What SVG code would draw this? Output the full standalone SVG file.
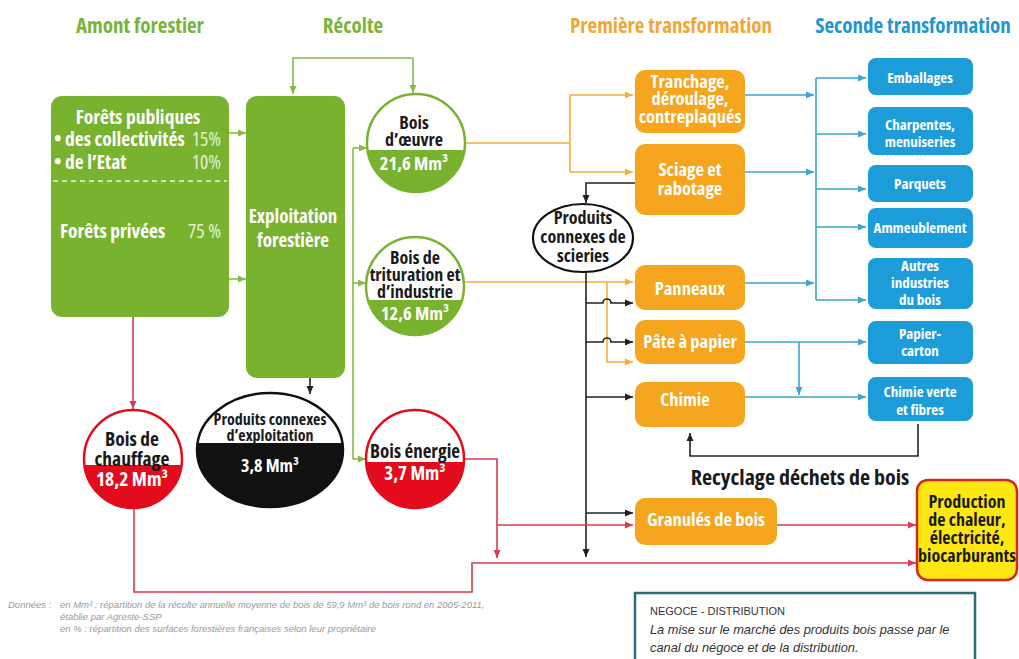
<svg xmlns="http://www.w3.org/2000/svg" width="1019" height="659" viewBox="0 0 1019 659">
<defs>
<style>
text{font-family:"Open Sans","Roboto",sans-serif;font-stretch:75%;font-weight:bold;text-anchor:middle}
.s{text-anchor:start}
.e{text-anchor:end}
.title{font-size:21px}
.w{fill:#fff}
.k{fill:#1a1a1a}
.pc{fill:#e4f0d2;font-weight:normal}
.gb{fill:#78b22e}
.ob{fill:#f5a51e}
.bb{fill:#1c9dda}
.bt{fill:#fff;font-size:15px}
.ot{fill:#fff;font-size:18.5px}
.lg{fill:none;stroke:#86ba46;stroke-width:1.6}
.lo{fill:none;stroke:#f0b23c;stroke-width:1.6}
.lb{fill:none;stroke:#3aa5d2;stroke-width:1.6}
.lr{fill:none;stroke:#d83a55;stroke-width:1.6}
.lk{fill:none;stroke:#222;stroke-width:1.6}
.foot{font-family:"Liberation Sans",sans-serif;font-stretch:normal;font-weight:normal;font-style:italic;font-size:9.5px;fill:#999;text-anchor:start}
.neg{font-family:"Liberation Sans",sans-serif;font-stretch:normal;font-weight:normal;font-size:11px;fill:#333;text-anchor:start}
.it{font-style:italic;font-size:12.8px}
</style>
<marker id="ag" viewBox="0 0 8 8" refX="8" refY="4" markerWidth="8" markerHeight="8" orient="auto" markerUnits="userSpaceOnUse"><path d="M0,0.5L8,4L0,7.5z" fill="#86ba46"/></marker>
<marker id="ao" viewBox="0 0 8 8" refX="8" refY="4" markerWidth="8" markerHeight="8" orient="auto" markerUnits="userSpaceOnUse"><path d="M0,0.5L8,4L0,7.5z" fill="#f0b23c"/></marker>
<marker id="ab" viewBox="0 0 8 8" refX="8" refY="4" markerWidth="8" markerHeight="8" orient="auto" markerUnits="userSpaceOnUse"><path d="M0,0.5L8,4L0,7.5z" fill="#3aa5d2"/></marker>
<marker id="ar" viewBox="0 0 8 8" refX="8" refY="4" markerWidth="8" markerHeight="8" orient="auto" markerUnits="userSpaceOnUse"><path d="M0,0.5L8,4L0,7.5z" fill="#d83a55"/></marker>
<marker id="ak" viewBox="0 0 8 8" refX="8" refY="4" markerWidth="8" markerHeight="8" orient="auto" markerUnits="userSpaceOnUse"><path d="M0,0.5L8,4L0,7.5z" fill="#222"/></marker>
</defs>
<rect width="1019" height="659" fill="#fff"/>

<g id="titles">
<text class="title" x="140" y="33" fill="#7ab33a">Amont forestier</text>
<text class="title" x="353" y="33" fill="#7ab33a">Récolte</text>
<text class="title" x="671" y="33" fill="#f0a830">Première transformation</text>
<text class="title" x="913" y="33" fill="#2196d0">Seconde transformation</text>
</g>

<g id="connectors">
<path class="lg" d="M229,133H246" marker-end="url(#ag)"/>
<path class="lg" d="M229,279H246" marker-end="url(#ag)"/>
<path class="lg" d="M413,58H293V94" marker-end="url(#ag)"/>
<path class="lg" d="M413,58V93" marker-end="url(#ag)"/>
<path class="lg" d="M353,148V459"/>
<path class="lg" d="M353,148H367" marker-end="url(#ag)"/>
<path class="lg" d="M353,283H366" marker-end="url(#ag)"/>
<path class="lg" d="M353,459H366" marker-end="url(#ag)"/>
<path class="lo" d="M465,143H570"/>
<path class="lo" d="M570,95V172"/>
<path class="lo" d="M570,95H633" marker-end="url(#ao)"/>
<path class="lo" d="M570,172H633" marker-end="url(#ao)"/>
<path class="lo" d="M463,282H633" marker-end="url(#ao)"/>
<path class="lo" d="M607,282V362H633" marker-end="url(#ao)"/>
<path class="lk" d="M635,183H586V203" marker-end="url(#ak)"/>
<path class="lk" d="M586,272V557" marker-end="url(#ak)"/>
<path class="lk" d="M586,303H603a4,4 0 0 1 8,0H633" marker-end="url(#ak)"/>
<path class="lk" d="M586,342H603a4,4 0 0 1 8,0H633" marker-end="url(#ak)"/>
<path class="lk" d="M586,397H633" marker-end="url(#ak)"/>
<path class="lk" d="M586,513H633" marker-end="url(#ak)"/>
<path class="lk" d="M310,378V394" marker-end="url(#ak)"/>
<path class="lb" d="M745,95H814" marker-end="url(#ab)"/>
<path class="lb" d="M745,172H814" marker-end="url(#ab)"/>
<path class="lb" d="M745,283H814" marker-end="url(#ab)"/>
<path class="lb" d="M816,78V300"/>
<path class="lb" d="M816,78H866" marker-end="url(#ab)"/>
<path class="lb" d="M816,134H866" marker-end="url(#ab)"/>
<path class="lb" d="M816,189H866" marker-end="url(#ab)"/>
<path class="lb" d="M816,227H866" marker-end="url(#ab)"/>
<path class="lb" d="M816,300H866" marker-end="url(#ab)"/>
<path class="lb" d="M745,342H866" marker-end="url(#ab)"/>
<path class="lb" d="M745,397H866" marker-end="url(#ab)"/>
<path class="lb" d="M799,342V395" marker-end="url(#ab)"/>
<path class="lk" d="M918,424V456H690V433" marker-end="url(#ak)"/>
<path class="lr" d="M133,317V409" marker-end="url(#ar)"/>
<path class="lr" d="M465,459H497V558" marker-end="url(#ar)"/>
<path class="lr" d="M497,525H633" marker-end="url(#ar)"/>
<path class="lr" d="M777,525H916" marker-end="url(#ar)"/>
<path class="lr" d="M134,508V592H472V563H916" marker-end="url(#ar)"/>
</g>

<g id="forets">
<rect class="gb" x="51" y="96" width="178" height="221" rx="11"/>
<line x1="53" y1="181" x2="227" y2="181" stroke="#fff" stroke-width="1.3" stroke-dasharray="5,4" opacity="0.85"/>
<text class="w" x="138" y="124" font-size="19.5">Forêts publiques</text>
<text class="w s" x="54" y="146" font-size="19.5">• des collectivités</text>
<text class="pc e" x="221" y="146" font-size="19.5">15%</text>
<text class="w s" x="54" y="169" font-size="19.5">• de l’Etat</text>
<text class="pc e" x="221" y="169" font-size="19.5">10%</text>
<text class="w s" x="60" y="238" font-size="19.5">Forêts privées</text>
<text class="pc e" x="221" y="238" font-size="19.5">75 %</text>
</g>

<g id="exploitation">
<rect class="gb" x="246" y="96" width="99" height="282" rx="11"/>
<text class="w" x="293" y="223" font-size="19">Exploitation</text>
<text class="w" x="293" y="247" font-size="19">forestière</text>
</g>

<g id="bois-oeuvre">
<circle cx="416" cy="143" r="49" fill="#fff"/>
<path d="M367.5,150A49,49 0 0 0 464.5,150Z" fill="#78b22e"/>
<circle cx="416" cy="143" r="49" fill="none" stroke="#78b22e" stroke-width="2.5"/>
<text class="k" x="414" y="129" font-size="18">Bois</text>
<text class="k" x="414" y="146" font-size="18">d’œuvre</text>
<text class="w" x="414" y="170" font-size="18.5">21,6 Mm³</text>
</g>

<g id="bois-trituration">
<circle cx="415" cy="286" r="49" fill="#fff"/>
<path d="M368,300A49,49 0 0 0 462,300Z" fill="#78b22e"/>
<circle cx="415" cy="286" r="49" fill="none" stroke="#78b22e" stroke-width="2.5"/>
<text class="k" x="415" y="264" font-size="18">Bois de</text>
<text class="k" x="415" y="281" font-size="18">trituration et</text>
<text class="k" x="415" y="298" font-size="18">d’industrie</text>
<text class="w" x="415" y="320" font-size="18.5">12,6 Mm³</text>
</g>

<g id="bois-energie">
<circle cx="415" cy="459" r="49" fill="#fff"/>
<path d="M366.1,462A49,49 0 0 0 463.9,462Z" fill="#e30b1c"/>
<circle cx="415" cy="459" r="49" fill="none" stroke="#e30b1c" stroke-width="2.5"/>
<text class="k" x="415" y="458" font-size="19">Bois énergie</text>
<text class="w" x="415" y="480" font-size="19">3,7 Mm³</text>
</g>

<g id="bois-chauffage">
<circle cx="133" cy="459" r="49" fill="#fff"/>
<path d="M84.4,465A49,49 0 0 0 181.6,465Z" fill="#e30b1c"/>
<circle cx="133" cy="459" r="49" fill="none" stroke="#e30b1c" stroke-width="2.5"/>
<text class="k" x="132" y="446" font-size="19.5">Bois de</text>
<text class="k" x="132" y="466" font-size="19.5">chauffage</text>
<text class="w" x="132" y="486" font-size="19.5">18,2 Mm³</text>
</g>

<g id="produits-exploitation">
<ellipse cx="270" cy="450" rx="73" ry="57" fill="#fff"/>
<path d="M197.6,443A73,57 0 1 0 342.4,443Z" fill="#111"/>
<ellipse cx="270" cy="450" rx="73" ry="57" fill="none" stroke="#111" stroke-width="2.5"/>
<text class="k" x="270" y="425" font-size="16">Produits connexes</text>
<text class="k" x="270" y="441" font-size="16">d’exploitation</text>
<text class="w" x="270" y="472" font-size="18">3,8 Mm³</text>
</g>

<g id="tranchage">
<rect class="ob" x="635" y="70" width="110" height="63" rx="10"/>
<text class="ot" x="690" y="88" font-size="17.5">Tranchage,</text>
<text class="ot" x="690" y="105" font-size="17.5">déroulage,</text>
<text class="ot" x="690" y="123" font-size="17.5">contreplaqués</text>
</g>
<g id="sciage">
<rect class="ob" x="635" y="144" width="110" height="71" rx="10"/>
<text class="ot" x="690" y="176">Sciage et</text>
<text class="ot" x="690" y="195">rabotage</text>
</g>
<g id="produits-scieries">
<ellipse cx="583" cy="238" rx="50" ry="34" fill="#fff" stroke="#111" stroke-width="2.2"/>
<text class="k" x="583" y="224" font-size="18">Produits</text>
<text class="k" x="583" y="243" font-size="18">connexes de</text>
<text class="k" x="583" y="262" font-size="18">scieries</text>
</g>
<g id="panneaux">
<rect class="ob" x="635" y="265" width="110" height="45" rx="10"/>
<text class="ot" x="690" y="295">Panneaux</text>
</g>
<g id="pate-papier">
<rect class="ob" x="635" y="320" width="110" height="44" rx="10"/>
<text class="ot" x="690" y="348" font-size="16">Pâte à papier</text>
</g>
<g id="chimie">
<rect class="ob" x="635" y="382" width="110" height="45" rx="10"/>
<text class="ot" x="685" y="406" font-size="17">Chimie</text>
</g>
<g id="granules">
<rect class="ob" x="635" y="498" width="142" height="47" rx="10"/>
<text class="ot" x="706" y="526" font-size="18">Granulés de bois</text>
</g>

<g id="emballages">
<rect class="bb" x="868" y="58" width="105" height="37" rx="8"/>
<text class="bt" x="920" y="83" font-size="16">Emballages</text>
</g>
<g id="charpentes">
<rect class="bb" x="868" y="107" width="105" height="48" rx="8"/>
<text class="bt" x="920" y="130">Charpentes,</text>
<text class="bt" x="920" y="147">menuiseries</text>
</g>
<g id="parquets">
<rect class="bb" x="868" y="165" width="105" height="37" rx="8"/>
<text class="bt" x="920" y="189">Parquets</text>
</g>
<g id="ameublement">
<rect class="bb" x="868" y="208" width="105" height="40" rx="8"/>
<text class="bt" x="920" y="233">Ammeublement</text>
</g>
<g id="autres">
<rect class="bb" x="868" y="258" width="105" height="51" rx="8"/>
<text class="bt" x="920" y="271">Autres</text>
<text class="bt" x="920" y="288">industries</text>
<text class="bt" x="920" y="305">du bois</text>
</g>
<g id="papier-carton">
<rect class="bb" x="868" y="321" width="105" height="43" rx="8"/>
<text class="bt" x="920" y="339">Papier-</text>
<text class="bt" x="920" y="356">carton</text>
</g>
<g id="chimie-verte">
<rect class="bb" x="868" y="377" width="105" height="44" rx="8"/>
<text class="bt" x="920" y="397" font-size="14.5">Chimie verte</text>
<text class="bt" x="920" y="415" font-size="14.5">et fibres</text>
</g>

<g id="recyclage">
<text class="k" x="800" y="485" font-size="22">Recyclage déchets de bois</text>
</g>

<g id="production">
<rect x="917" y="480" width="100" height="100" rx="11" fill="#ffe812" stroke="#d7261e" stroke-width="2.5"/>
<text class="k" x="967" y="508" font-size="18">Production</text>
<text class="k" x="967" y="526" font-size="18">de chaleur,</text>
<text class="k" x="967" y="544" font-size="18">électricité,</text>
<text class="k" x="967" y="562" font-size="18">biocarburants</text>
</g>

<g id="notes">
<text class="foot" x="8" y="608">Données :</text>
<text class="foot" x="60" y="608">en Mm³ : répartition de la récolte annuelle moyenne de bois de 59,9 Mm³ de bois rond en 2005-2011,</text>
<text class="foot" x="60" y="620">établie par Agreste-SSP</text>
<text class="foot" x="60" y="632">en % : répartition des surfaces forestières françaises selon leur propriétaire</text>
</g>

<g id="negoce">
<rect x="635" y="593" width="340" height="72" fill="#fff" stroke="#2f6b7c" stroke-width="2.5"/>
<text class="neg" x="650" y="615">NEGOCE - DISTRIBUTION</text>
<text class="neg it" x="650" y="634">La mise sur le marché des produits bois passe par le</text>
<text class="neg it" x="650" y="652">canal du négoce et de la distribution.</text>
</g>
</svg>
